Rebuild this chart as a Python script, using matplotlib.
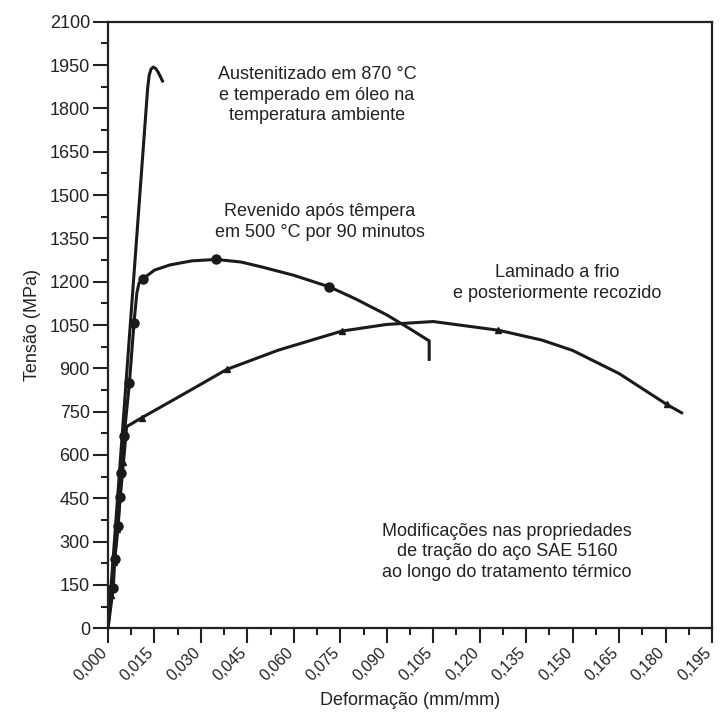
import matplotlib
matplotlib.use("Agg")
import matplotlib.pyplot as plt
from matplotlib.ticker import MultipleLocator, FuncFormatter
from matplotlib.transforms import ScaledTranslation

plt.rcParams['font.family'] = ['Liberation Sans', 'DejaVu Sans']

# Austenitizado em 870 °C e temperado em óleo
aust_x = [0, 0.0128, 0.0133, 0.0139, 0.0146, 0.0154, 0.0162, 0.0170, 0.0178]
aust_y = [0, 1870, 1915, 1936, 1943, 1938, 1925, 1908, 1890]

# Revenido após têmpera em 500 °C por 90 minutos
rev_x = [0, 0.0017, 0.0022, 0.0033, 0.0039, 0.0042, 0.0052, 0.0069, 0.0084,
         0.0093, 0.0100, 0.0114, 0.0150, 0.0200, 0.0270, 0.0349, 0.0430,
         0.0500, 0.0600, 0.0715, 0.0800, 0.0900, 0.0970, 0.1037, 0.1037]
rev_y = [0, 140, 240, 355, 455, 536, 666, 848, 1058,
         1160, 1195, 1211, 1240, 1258, 1272, 1277, 1268,
         1250, 1222, 1182, 1140, 1085, 1040, 995, 931]
rev_marks = [1, 2, 3, 4, 5, 6, 7, 8, 11, 15, 19]

# Laminado a frio e posteriormente recozido
lam_x = [0, 0.0010, 0.0020, 0.0030, 0.0040, 0.0050, 0.0060, 0.0109, 0.0200,
         0.0300, 0.0383, 0.0550, 0.0755, 0.0900, 0.1050, 0.1260, 0.1400,
         0.1500, 0.1650, 0.1804, 0.1852]
lam_y = [0, 115, 230, 345, 460, 575, 698, 729, 784,
         845, 896, 963, 1029, 1052, 1062, 1032, 998,
         962, 882, 775, 746]
lam_marks = [1, 2, 3, 4, 5, 7, 10, 12, 15, 19]

fig = plt.figure(figsize=(7.21, 7.24), dpi=100)
ax = fig.add_axes([0.1498, 0.1322, 0.8377, 0.8378])

lw = 2.2
ax.plot(aust_x, aust_y, color='#1a1a1a', lw=lw, solid_capstyle='butt')
ax.plot(rev_x, rev_y, color='#1a1a1a', lw=lw, marker='o', markersize=6.5,
        markevery=rev_marks)
ax.plot(lam_x, lam_y, color='#1a1a1a', lw=lw, marker='^', markersize=5,
        markevery=lam_marks)

ax.set_xlim(0, 0.195)
ax.set_ylim(0, 2100)
ax.xaxis.set_major_locator(MultipleLocator(0.015))
ax.xaxis.set_minor_locator(MultipleLocator(0.0075))
ax.yaxis.set_major_locator(MultipleLocator(150))
ax.yaxis.set_minor_locator(MultipleLocator(75))
ax.xaxis.set_major_formatter(FuncFormatter(lambda v, p: f"{v:.3f}".replace('.', ',')))
ax.yaxis.set_major_formatter(FuncFormatter(lambda v, p: f"{v:.0f}"))

ax.tick_params(which='major', length=11, width=1.5, labelsize=13,
               colors='#222222', direction='out', pad=2)
ax.tick_params(axis='x', which='major', labelsize=11.5, pad=1)
ax.tick_params(which='minor', length=5, width=1.5, direction='out', colors='#222222')
shift = ScaledTranslation(-6 / 72, 0, fig.dpi_scale_trans)
for lab in ax.get_xticklabels():
    lab.set_rotation(45)
    lab.set_ha('right')
    lab.set_va('top')
    lab.set_rotation_mode('anchor')
    lab.set_transform(lab.get_transform() + shift)

for s in ax.spines.values():
    s.set_linewidth(1.6)
    s.set_color('#222222')

ax.set_xlabel('Deformação (mm/mm)', fontsize=13, color='#222222', labelpad=6)
ax.set_ylabel('Tensão (MPa)', fontsize=13, color='#222222', labelpad=6)

tkw = dict(fontsize=13, color='#222222', ha='center', va='center',
           transform=fig.transFigure, linespacing=1.25)
def fx(px):
    return px / 721
def fy(py):
    return 1 - py / 724

fig.text(fx(317), fy(95), 'Austenitizado em 870 °C\ne temperado em óleo na\ntemperatura ambiente', **tkw)
fig.text(fx(320), fy(222), 'Revenido após têmpera\nem 500 °C por 90 minutos', **tkw)
fig.text(fx(557), fy(283), 'Laminado a frio\ne posteriormente recozido', **tkw)
fig.text(fx(507), fy(552), 'Modificações nas propriedades\nde tração do aço SAE 5160\nao longo do tratamento térmico', **tkw)

fig.savefig('out.png', dpi=100)
